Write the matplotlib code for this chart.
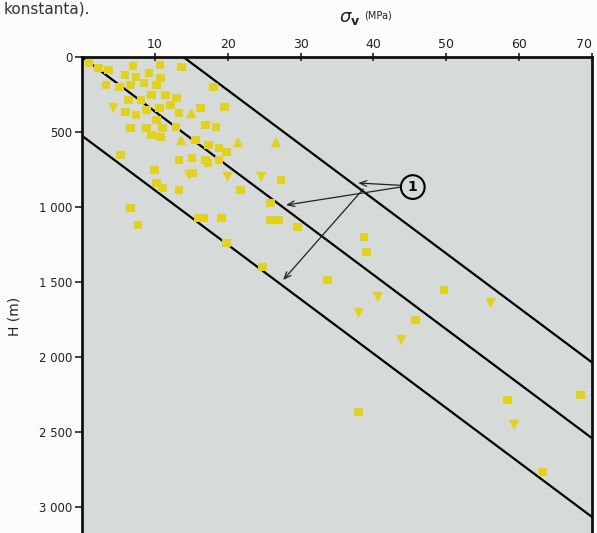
import matplotlib
matplotlib.use('Agg')
import matplotlib.pyplot as plt
from matplotlib.transforms import ScaledTranslation

# σv (MPa) a H (m) – čtverce
sq_sigma = [0.96, 2.3, 3.6, 7.0, 10.7, 13.7, 5.9, 7.4, 9.2, 10.8,
            3.3, 5.1, 6.7, 8.5, 10.2, 6.4, 8.1, 9.5, 11.5, 13.0,
            18.1, 6.0, 7.4, 8.8, 10.6, 12.2, 13.3, 16.3, 19.6, 6.7,
            8.8, 10.2, 11.1, 12.9, 17.0, 18.4, 5.3, 9.5, 10.8, 15.6,
            17.4, 18.8, 19.8, 13.3, 15.1, 17.0, 18.8, 15.2, 17.3, 27.3,
            9.9, 10.2, 11.1, 13.3, 21.8, 25.9, 6.7, 7.7, 16.0, 16.7,
            19.1, 25.9, 27.0, 29.6, 19.8, 24.8, 38.7, 39.0, 33.7, 49.7,
            45.8, 38.0, 58.4, 68.4, 63.2]
sq_h = [40, 73, 87, 60, 53, 67, 120, 133, 107, 140,
        187, 200, 187, 173, 187, 287, 287, 253, 253, 273,
        200, 367, 387, 353, 340, 320, 373, 340, 333, 473,
        473, 420, 473, 467, 453, 467, 653, 520, 533, 553,
        587, 607, 633, 687, 673, 687, 687, 773, 707, 820,
        753, 840, 873, 887, 887, 973, 1007, 1120, 1073, 1073,
        1073, 1087, 1087, 1133, 1240, 1400, 1200, 1300, 1487, 1553,
        1753, 2367, 2287, 2253, 2767]

# trojúhelníky
tri_sigma = [21.4, 26.6, 15.0, 13.6]
tri_h = [567, 567, 373, 553]

# obrácené trojúhelníky
inv_sigma = [4.3, 14.7, 20.0, 24.6, 40.6, 38.0, 43.8, 56.1, 59.3]
inv_h = [340, 787, 800, 800, 1600, 1707, 1887, 1640, 2453]

# přímky sigma = (H - H0) / gradient
gradient = 36.3            # m na 1 MPa
line_h0 = [0, -505, 525]

x_ticks = [10, 20, 30, 40, 50, 60, 70]
y_ticks = [0, 500, 1000, 1500, 2000, 2500, 3000]
y_labels = ['0', '500', '1 000', '1 500', '2 000', '2 500', '3 000']

bg = '#d6dad8'
yellow = '#e2d21e'

fig = plt.figure(figsize=(5.97, 5.33), dpi=100)
fig.patch.set_facecolor('#fbfbfb')
ax = fig.add_axes([82 / 597, 0.0, 510 / 597, 1 - 57 / 533])
ax.set_facecolor(bg)

ax.set_xlim(0, 70)
ax.set_ylim(3173, 0)

# přímky
for h0 in line_h0:
    hs = [0, 3173]
    ax.plot([(h - h0) / gradient for h in hs], hs, color='black', lw=1.6,
            solid_capstyle='butt')

# body
ax.scatter(sq_sigma, sq_h, marker='s', s=40, c=yellow, edgecolors='none',
           zorder=3)
ax.scatter(tri_sigma, tri_h, marker='^', s=55, c=yellow, edgecolors='none',
           zorder=3)
ax.scatter(inv_sigma, inv_h, marker='v', s=55, c=yellow, edgecolors='none',
           zorder=3)

# popisek 1 se šipkami
ax.annotate('1', xy=(45.4, 867), ha='center', va='center', fontsize=10,
            fontweight='bold',
            bbox=dict(boxstyle='circle,pad=0.35', fc=bg, ec='black', lw=1.5))
arrow = dict(arrowstyle='->,head_length=0.5,head_width=0.2', lw=0.9,
             color='#222222', shrinkA=0, shrinkB=0)
ax.annotate('', xy=(37.9, 840), xytext=(43.6, 855), arrowprops=arrow)
ax.annotate('', xy=(28.0, 987), xytext=(43.6, 868), arrowprops=arrow)
ax.annotate('', xy=(27.6, 1487), xytext=(38.6, 880), arrowprops=arrow)

# osy
ax.xaxis.tick_top()
ax.set_xticks(x_ticks)
ax.set_xticklabels([str(v) for v in x_ticks])
ax.set_yticks(y_ticks)
ax.set_yticklabels(y_labels)
ax.tick_params(axis='x', direction='inout', length=6, width=1.2,
               labelsize=9, colors='#222222', pad=1)
ax.tick_params(axis='y', direction='out', length=5, width=1.2,
               labelsize=8.5, colors='#222222', pad=2)
last = ax.get_xticklabels()[-1]
last.set_transform(last.get_transform() +
                   ScaledTranslation(-8 / 100, 0, fig.dpi_scale_trans))
for name in ['left', 'top', 'right']:
    ax.spines[name].set_linewidth(2)
    ax.spines[name].set_color('#111111')
ax.spines['bottom'].set_visible(False)

fig.text(360 / 597, 1 - 18 / 533, r'$\mathit{\sigma}_{\mathbf{v}}$',
         fontsize=13, ha='right', va='center', color='#222222')
fig.text(364 / 597, 1 - 16 / 533, '(MPa)', fontsize=7, ha='left',
         va='center', color='#222222')
fig.text(14 / 597, 1 - 316 / 533, 'H (m)', fontsize=10, rotation=90,
         ha='center', va='center', color='#222222')
fig.text(4 / 597, 1 - 1 / 533, 'konstanta).', fontsize=11, ha='left',
         va='top', color='#333333')

fig.savefig('out.png', dpi=100, facecolor=fig.get_facecolor())
